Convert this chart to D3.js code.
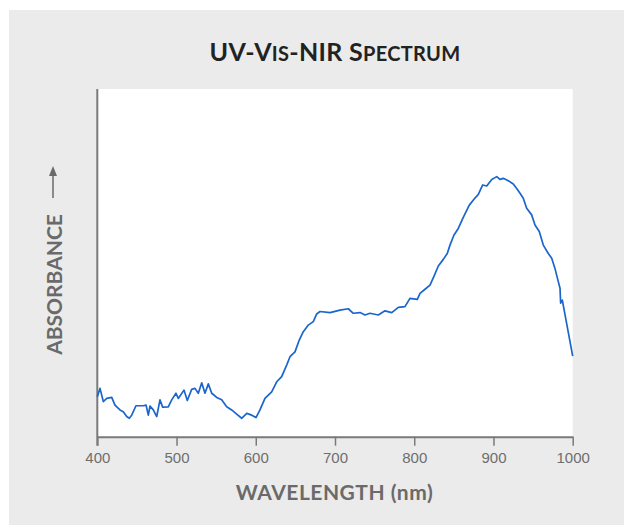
<!DOCTYPE html>
<html>
<head>
<meta charset="utf-8">
<script src="https://cdn.jsdelivr.net/npm/d3@7"></script>
<style>
  html, body { margin: 0; padding: 0; background: #ffffff; }
  svg { display: block; }
</style>
</head>
<body>
<svg id="chart" width="624" height="525"></svg>
<script>
// ---- data ----
const wavelengths = [400,403.4,407.6,411.9,418.2,422.3,428.6,432.8,437.1,440.4,443.4,448.8,458.1,461.5,464.4,466.5,470.7,475,479.1,482.5,489.6,493.9,499.3,502.2,509.4,513.6,519.1,523.3,527.5,531.8,535.9,540.1,544.4,550.7,557,563.3,569.6,575.9,582.2,588.6,594.9,600.3,605.3,611.6,620.1,626.4,632.7,639,643.2,649.5,654.9,660,666.3,672.6,676.9,681.1,693.7,706.3,716.8,723.1,731.6,737.9,744.2,754.6,763.1,771.6,779.9,788.3,794.6,803.9,807.3,813.6,819.9,825,830.4,836.7,841.7,845.1,850.2,855.6,861.9,869.5,875.4,880.9,886.4,891.5,897.8,904.1,908.2,912.4,918.7,925,929.3,933.5,937.6,941.9,948.2,952.4,957.8,962.9,969.2,973.5,977.6,981.8,984,984.8,986.9,1000];
const absorbance = [0.115,0.139,0.101,0.110,0.113,0.091,0.077,0.072,0.058,0.053,0.062,0.089,0.089,0.091,0.062,0.088,0.077,0.058,0.106,0.085,0.086,0.106,0.125,0.110,0.134,0.104,0.136,0.139,0.125,0.155,0.125,0.152,0.125,0.113,0.106,0.086,0.077,0.065,0.053,0.067,0.062,0.055,0.077,0.110,0.129,0.158,0.173,0.206,0.230,0.244,0.278,0.302,0.321,0.331,0.353,0.360,0.357,0.364,0.368,0.355,0.357,0.350,0.355,0.350,0.362,0.357,0.372,0.374,0.398,0.395,0.412,0.424,0.436,0.462,0.491,0.510,0.527,0.551,0.580,0.599,0.631,0.666,0.683,0.697,0.724,0.721,0.740,0.748,0.740,0.743,0.736,0.727,0.714,0.700,0.686,0.657,0.638,0.609,0.590,0.551,0.527,0.513,0.484,0.446,0.427,0.384,0.393,0.232];
const xTicks = [400,500,600,700,800,900,1000];
// title drawn in small caps: [text, isSmallCap]
const titleParts = [["UV-V", false], ["IS", true], ["-NIR S", false], ["PECTRUM", true]];
const xLabel = "WAVELENGTH (nm)";
const yLabel = "ABSORBANCE";

// ---- layout ----
const svg = d3.select("#chart");
const W = 624, H = 525;
const plot = {left: 97.3, right: 572.7, top: 89, bottom: 436.7};

svg.append("rect").attr("x", 9).attr("y", 10).attr("width", W - 9).attr("height", H - 10).attr("fill", "#ebebeb");
svg.append("rect").attr("x", plot.left).attr("y", plot.top)
  .attr("width", plot.right - plot.left).attr("height", plot.bottom - plot.top).attr("fill", "#ffffff");

const x = d3.scaleLinear().domain([400, 1000]).range([plot.left, plot.right]);
const y = d3.scaleLinear().domain([0, 1]).range([plot.bottom, plot.top]);

// title
const title = svg.append("text").attr("x", (plot.left + plot.right) / 2).attr("y", 61)
  .attr("text-anchor", "middle")
  .style("font-family", "Lato, 'Open Sans', sans-serif")
  .style("font-weight", "bold")
  .style("letter-spacing", "0.3px")
  .attr("fill", "#222");
title.selectAll("tspan").data(titleParts).join("tspan")
  .style("font-size", d => d[1] ? "20px" : "25px")
  .text(d => d[0]);

// x axis
const xAxis = d3.axisBottom(x).tickValues(xTicks).tickSize(9).tickSizeOuter(0).tickPadding(7).tickFormat(d3.format("d"));
const gx = svg.append("g").attr("transform", `translate(0,${plot.bottom})`).call(xAxis);
gx.select(".domain").attr("stroke", "#7a7a7a").attr("stroke-width", 2);
gx.selectAll(".tick line").attr("stroke", "#7a7a7a").attr("stroke-width", 1.5);
gx.selectAll(".tick text").attr("fill", "#6e6e6e")
  .style("font-family", "'Liberation Sans', Arial, sans-serif").style("font-size", "15px");

// y axis line (no ticks)
const yAxis = d3.axisLeft(y).tickValues([]).tickSizeOuter(0);
const gy = svg.append("g").attr("transform", `translate(${plot.left},0)`).call(yAxis);
gy.select(".domain").attr("stroke", "#7a7a7a").attr("stroke-width", 2)
  .attr("d", `M0,${plot.top}V${plot.bottom + 9}`);

// x label
svg.append("text").attr("x", 334.5).attr("y", 500)
  .attr("text-anchor", "middle")
  .style("font-family", "Lato, 'Open Sans', sans-serif")
  .style("font-weight", "bold").style("font-size", "21px")
  .style("letter-spacing", "0.5px")
  .attr("fill", "#6a6a6a").text(xLabel);

// y label + arrow
svg.append("text").attr("transform", "translate(61.5,284.5) rotate(-90)")
  .attr("text-anchor", "middle")
  .style("font-family", "Lato, 'Open Sans', sans-serif")
  .style("font-weight", "bold").style("font-size", "21px")
  .attr("fill", "#6a6a6a").text(yLabel);

svg.append("line").attr("x1", 53).attr("x2", 53).attr("y1", 198).attr("y2", 172)
  .attr("stroke", "#6a6a6a").attr("stroke-width", 1.5);
svg.append("path").attr("d", "M53,166 L49,176 L57,176 Z").attr("fill", "#6a6a6a");

// spectrum line
const line = d3.line().x((d, i) => x(wavelengths[i])).y(d => y(d));
svg.append("path").datum(absorbance)
  .attr("fill", "none").attr("stroke", "#1a66cc").attr("stroke-width", 1.7)
  .attr("stroke-linejoin", "round").attr("d", line);
</script>
</body>
</html>
